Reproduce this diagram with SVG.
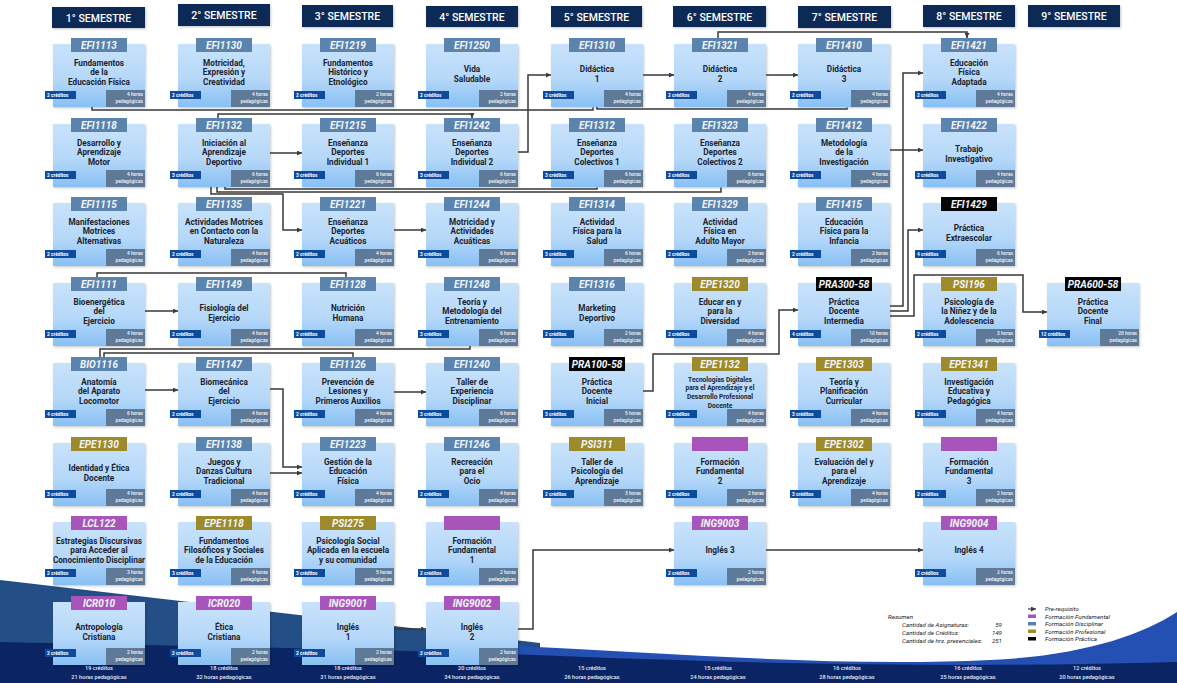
<svg xmlns="http://www.w3.org/2000/svg" width="1177" height="683" viewBox="0 0 1177 683">
<defs>
<linearGradient id="g" x1="0" y1="0" x2="0" y2="1">
<stop offset="0" stop-color="#c8e2fb"/><stop offset="0.55" stop-color="#b6d8f9"/><stop offset="1" stop-color="#88c0f4"/>
</linearGradient>
<filter id="sh" x="-10%" y="-10%" width="125%" height="130%"><feDropShadow dx="1" dy="1.2" stdDeviation="1" flood-color="#000" flood-opacity="0.22"/></filter>
<marker id="ar" viewBox="0 0 6 6" refX="6" refY="3" markerWidth="5" markerHeight="5" markerUnits="userSpaceOnUse" orient="auto"><path d="M0,0 L6,3 L0,6 Z" fill="#3c3c3c"/></marker>
<style>
.b{fill:url(#g);filter:url(#sh)}
.d{fill:#5a83ad}.f{fill:#a855bb}.p{fill:#9d8a2b}.k{fill:#050505}
.c{font:italic 700 10px Roboto,sans-serif;fill:#f2f6fb;text-anchor:middle}
.t{font:700 8.2px Roboto,sans-serif;fill:#1b2430;text-anchor:middle}
.ts{font:700 6.6px Roboto,sans-serif;fill:#1b2430;text-anchor:middle}
.cr{fill:#0d4b9e}
.ct{font:700 4.8px Roboto,sans-serif;fill:#fff}
.h{fill:#5e7a98}
.ht{font:500 4.8px Roboto,sans-serif;fill:#f4f6f9;text-anchor:end}
.hd{fill:#0f2c56;filter:url(#sh)}
.hdt{font:500 10.5px Roboto,sans-serif;fill:#fff;text-anchor:middle}
.ln{fill:none;stroke:#383838;stroke-width:1.5}
.ft{font:500 5.6px Roboto,sans-serif;fill:#e4ecff;text-anchor:middle}
.lg{font:italic 400 6.2px Roboto,sans-serif;fill:#222}
</style>
</defs>
<rect width="1177" height="683" fill="#fff"/>
<g id="background">
<path d="M0,580 L540,643 L540,683 L0,683 Z" fill="#234f86"/>
<path d="M470,644 C640,650 820,668 990,660 C1080,656 1140,636 1177,612 L1177,683 L470,683 Z" fill="#2350b2"/>
<path d="M0,642 C180,646 380,649 560,656 C760,664 980,668 1177,662 L1177,683 L0,683 Z" fill="#0b2463"/>
</g>
<g id="headers">
<rect class="hd" x="52" y="7" width="93" height="21"/><text class="hdt" x="98.5" y="21.5">1° SEMESTRE</text>
<rect class="hd" x="178" y="4" width="92" height="22"/><text class="hdt" x="224" y="19">2° SEMESTRE</text>
<rect class="hd" x="302" y="5" width="91" height="22"/><text class="hdt" x="347.5" y="20">3° SEMESTRE</text>
<rect class="hd" x="426" y="6" width="92" height="21"/><text class="hdt" x="472" y="20.5">4° SEMESTRE</text>
<rect class="hd" x="551" y="6" width="91" height="21"/><text class="hdt" x="596.5" y="20.5">5° SEMESTRE</text>
<rect class="hd" x="673" y="6" width="93" height="21"/><text class="hdt" x="719.5" y="20.5">6° SEMESTRE</text>
<rect class="hd" x="798" y="6" width="93" height="22"/><text class="hdt" x="844.5" y="21">7° SEMESTRE</text>
<rect class="hd" x="923" y="5" width="92" height="22"/><text class="hdt" x="969" y="20">8° SEMESTRE</text>
<rect class="hd" x="1028" y="5" width="92" height="22"/><text class="hdt" x="1074" y="20">9° SEMESTRE</text>
</g>

<!-- Column 1 -->
<g id="EFI1113"><rect class="b" x="53" y="44" width="92" height="63"/><rect class="d" x="71" y="38" width="56" height="14"/><text class="c" x="99" y="48.6">EFI1113</text>
<text class="t" x="99" y="65.5">Fundamentos<tspan x="99" dy="9.5">de la</tspan><tspan x="99" dy="9.5">Educación Física</tspan></text>
<rect class="cr" x="45" y="91" width="31" height="8"/><text class="ct" x="47" y="97.2">2 créditos</text><rect class="h" x="106" y="90" width="39" height="17"/><text class="ht" x="143" y="96">4 horas<tspan x="143" dy="7">pedagógicas</tspan></text></g>
<g id="EFI1118"><rect class="b" x="53" y="124" width="92" height="63"/><rect class="d" x="71" y="118" width="56" height="14"/><text class="c" x="99" y="128.6">EFI1118</text>
<text class="t" x="99" y="145.5">Desarrollo y<tspan x="99" dy="9.5">Aprendizaje</tspan><tspan x="99" dy="9.5">Motor</tspan></text>
<rect class="cr" x="45" y="171" width="31" height="8"/><text class="ct" x="47" y="177.2">2 créditos</text><rect class="h" x="106" y="170" width="39" height="17"/><text class="ht" x="143" y="176">4 horas<tspan x="143" dy="7">pedagógicas</tspan></text></g>
<g id="EFI1115"><rect class="b" x="53" y="203" width="92" height="63"/><rect class="d" x="71" y="197" width="56" height="14"/><text class="c" x="99" y="207.6">EFI1115</text>
<text class="t" x="99" y="224.5">Manifestaciones<tspan x="99" dy="9.5">Motrices</tspan><tspan x="99" dy="9.5">Alternativas</tspan></text>
<rect class="cr" x="45" y="250" width="31" height="8"/><text class="ct" x="47" y="256.2">2 créditos</text><rect class="h" x="106" y="249" width="39" height="17"/><text class="ht" x="143" y="255">4 horas<tspan x="143" dy="7">pedagógicas</tspan></text></g>
<g id="EFI1111"><rect class="b" x="53" y="283" width="92" height="63"/><rect class="d" x="71" y="277" width="56" height="14"/><text class="c" x="99" y="287.6">EFI1111</text>
<text class="t" x="99" y="304.5">Bioenergética<tspan x="99" dy="9.5">del</tspan><tspan x="99" dy="9.5">Ejercicio</tspan></text>
<rect class="cr" x="45" y="330" width="31" height="8"/><text class="ct" x="47" y="336.2">2 créditos</text><rect class="h" x="106" y="329" width="39" height="17"/><text class="ht" x="143" y="335">4 horas<tspan x="143" dy="7">pedagógicas</tspan></text></g>
<g id="BIO1116"><rect class="b" x="53" y="363" width="92" height="63"/><rect class="d" x="71" y="357" width="56" height="14"/><text class="c" x="99" y="367.6">BIO1116</text>
<text class="t" x="99" y="384.5">Anatomía<tspan x="99" dy="9.5">del Aparato</tspan><tspan x="99" dy="9.5">Locomotor</tspan></text>
<rect class="cr" x="45" y="410" width="31" height="8"/><text class="ct" x="47" y="416.2">4 créditos</text><rect class="h" x="106" y="409" width="39" height="17"/><text class="ht" x="143" y="415">6 horas<tspan x="143" dy="7">pedagógicas</tspan></text></g>
<g id="EPE1130"><rect class="b" x="53" y="443" width="92" height="63"/><rect class="p" x="71" y="437" width="56" height="14"/><text class="c" x="99" y="447.6">EPE1130</text>
<text class="t" x="99" y="471">Identidad y Ética<tspan x="99" dy="9.5">Docente</tspan></text>
<rect class="cr" x="45" y="490" width="31" height="8"/><text class="ct" x="47" y="496.2">3 créditos</text><rect class="h" x="106" y="489" width="39" height="17"/><text class="ht" x="143" y="495">4 horas<tspan x="143" dy="7">pedagógicas</tspan></text></g>
<g id="LCL122"><rect class="b" x="53" y="522" width="92" height="63"/><rect class="f" x="71" y="516" width="56" height="14"/><text class="c" x="99" y="526.6">LCL122</text>
<text class="t" x="99" y="543.5">Estrategias Discursivas<tspan x="99" dy="9.5">para Acceder al</tspan><tspan x="99" dy="9.5">Conocimiento Disciplinar</tspan></text>
<rect class="cr" x="45" y="569" width="31" height="8"/><text class="ct" x="47" y="575.2">2 créditos</text><rect class="h" x="106" y="568" width="39" height="17"/><text class="ht" x="143" y="574">3 horas<tspan x="143" dy="7">pedagógicas</tspan></text></g>
<g id="ICR010"><rect class="b" x="53" y="602" width="92" height="63"/><rect class="f" x="71" y="596" width="56" height="14"/><text class="c" x="99" y="606.6">ICR010</text>
<text class="t" x="99" y="630">Antropología<tspan x="99" dy="9.5">Cristiana</tspan></text>
<rect class="cr" x="45" y="649" width="31" height="8"/><text class="ct" x="47" y="655.2">2 créditos</text><rect class="h" x="106" y="648" width="39" height="17"/><text class="ht" x="143" y="654">2 horas<tspan x="143" dy="7">pedagógicas</tspan></text></g>

<!-- Column 2 -->
<g id="EFI1130"><rect class="b" x="178" y="44" width="92" height="63"/><rect class="d" x="196" y="38" width="56" height="14"/><text class="c" x="224" y="48.6">EFI1130</text>
<text class="t" x="224" y="65.5">Motricidad,<tspan x="224" dy="9.5">Expresión y</tspan><tspan x="224" dy="9.5">Creatividad</tspan></text>
<rect class="cr" x="170" y="91" width="31" height="8"/><text class="ct" x="172" y="97.2">2 créditos</text><rect class="h" x="231" y="90" width="39" height="17"/><text class="ht" x="268" y="96">4 horas<tspan x="268" dy="7">pedagógicas</tspan></text></g>
<g id="EFI1132"><rect class="b" x="178" y="124" width="92" height="63"/><rect class="d" x="196" y="118" width="56" height="14"/><text class="c" x="224" y="128.6">EFI1132</text>
<text class="t" x="224" y="145.5">Iniciación al<tspan x="224" dy="9.5">Aprendizaje</tspan><tspan x="224" dy="9.5">Deportivo</tspan></text>
<rect class="cr" x="170" y="171" width="31" height="8"/><text class="ct" x="172" y="177.2">3 créditos</text><rect class="h" x="231" y="170" width="39" height="17"/><text class="ht" x="268" y="176">6 horas<tspan x="268" dy="7">pedagógicas</tspan></text></g>
<g id="EFI1135"><rect class="b" x="178" y="203" width="92" height="63"/><rect class="d" x="196" y="197" width="56" height="14"/><text class="c" x="224" y="207.6">EFI1135</text>
<text class="t" x="224" y="224.5">Actividades Motrices<tspan x="224" dy="9.5">en Contacto con la</tspan><tspan x="224" dy="9.5">Naturaleza</tspan></text>
<rect class="cr" x="170" y="250" width="31" height="8"/><text class="ct" x="172" y="256.2">2 créditos</text><rect class="h" x="231" y="249" width="39" height="17"/><text class="ht" x="268" y="255">4 horas<tspan x="268" dy="7">pedagógicas</tspan></text></g>
<g id="EFI1149"><rect class="b" x="178" y="283" width="92" height="63"/><rect class="d" x="196" y="277" width="56" height="14"/><text class="c" x="224" y="287.6">EFI1149</text>
<text class="t" x="224" y="311">Fisiología del<tspan x="224" dy="9.5">Ejercicio</tspan></text>
<rect class="cr" x="170" y="330" width="31" height="8"/><text class="ct" x="172" y="336.2">2 créditos</text><rect class="h" x="231" y="329" width="39" height="17"/><text class="ht" x="268" y="335">4 horas<tspan x="268" dy="7">pedagógicas</tspan></text></g>
<g id="EFI1147"><rect class="b" x="178" y="363" width="92" height="63"/><rect class="d" x="196" y="357" width="56" height="14"/><text class="c" x="224" y="367.6">EFI1147</text>
<text class="t" x="224" y="384.5">Biomecánica<tspan x="224" dy="9.5">del</tspan><tspan x="224" dy="9.5">Ejercicio</tspan></text>
<rect class="cr" x="170" y="410" width="31" height="8"/><text class="ct" x="172" y="416.2">2 créditos</text><rect class="h" x="231" y="409" width="39" height="17"/><text class="ht" x="268" y="415">4 horas<tspan x="268" dy="7">pedagógicas</tspan></text></g>
<g id="EFI1138"><rect class="b" x="178" y="443" width="92" height="63"/><rect class="d" x="196" y="437" width="56" height="14"/><text class="c" x="224" y="447.6">EFI1138</text>
<text class="t" x="224" y="464.5">Juegos y<tspan x="224" dy="9.5">Danzas Cultura</tspan><tspan x="224" dy="9.5">Tradicional</tspan></text>
<rect class="cr" x="170" y="490" width="31" height="8"/><text class="ct" x="172" y="496.2">2 créditos</text><rect class="h" x="231" y="489" width="39" height="17"/><text class="ht" x="268" y="495">4 horas<tspan x="268" dy="7">pedagógicas</tspan></text></g>
<g id="EPE1118"><rect class="b" x="178" y="522" width="92" height="63"/><rect class="p" x="196" y="516" width="56" height="14"/><text class="c" x="224" y="526.6">EPE1118</text>
<text class="t" x="224" y="543.5">Fundamentos<tspan x="224" dy="9.5">Filosóficos y Sociales</tspan><tspan x="224" dy="9.5">de la Educación</tspan></text>
<rect class="cr" x="170" y="569" width="31" height="8"/><text class="ct" x="172" y="575.2">3 créditos</text><rect class="h" x="231" y="568" width="39" height="17"/><text class="ht" x="268" y="574">4 horas<tspan x="268" dy="7">pedagógicas</tspan></text></g>
<g id="ICR020"><rect class="b" x="178" y="602" width="92" height="63"/><rect class="f" x="196" y="596" width="56" height="14"/><text class="c" x="224" y="606.6">ICR020</text>
<text class="t" x="224" y="630">Ética<tspan x="224" dy="9.5">Cristiana</tspan></text>
<rect class="cr" x="170" y="649" width="31" height="8"/><text class="ct" x="172" y="655.2">2 créditos</text><rect class="h" x="231" y="648" width="39" height="17"/><text class="ht" x="268" y="654">2 horas<tspan x="268" dy="7">pedagógicas</tspan></text></g>

<!-- Column 3 -->
<g id="EFI1219"><rect class="b" x="302" y="44" width="92" height="63"/><rect class="d" x="320" y="38" width="56" height="14"/><text class="c" x="348" y="48.6">EFI1219</text>
<text class="t" x="348" y="65.5">Fundamentos<tspan x="348" dy="9.5">Histórico y</tspan><tspan x="348" dy="9.5">Etnológico</tspan></text>
<rect class="cr" x="294" y="91" width="31" height="8"/><text class="ct" x="296" y="97.2">2 créditos</text><rect class="h" x="355" y="90" width="39" height="17"/><text class="ht" x="392" y="96">2 horas<tspan x="392" dy="7">pedagógicas</tspan></text></g>
<g id="EFI1215"><rect class="b" x="302" y="124" width="92" height="63"/><rect class="d" x="320" y="118" width="56" height="14"/><text class="c" x="348" y="128.6">EFI1215</text>
<text class="t" x="348" y="145.5">Enseñanza<tspan x="348" dy="9.5">Deportes</tspan><tspan x="348" dy="9.5">Individual 1</tspan></text>
<rect class="cr" x="294" y="171" width="31" height="8"/><text class="ct" x="296" y="177.2">3 créditos</text><rect class="h" x="355" y="170" width="39" height="17"/><text class="ht" x="392" y="176">6 horas<tspan x="392" dy="7">pedagógicas</tspan></text></g>
<g id="EFI1221"><rect class="b" x="302" y="203" width="92" height="63"/><rect class="d" x="320" y="197" width="56" height="14"/><text class="c" x="348" y="207.6">EFI1221</text>
<text class="t" x="348" y="224.5">Enseñanza<tspan x="348" dy="9.5">Deportes</tspan><tspan x="348" dy="9.5">Acuáticos</tspan></text>
<rect class="cr" x="294" y="250" width="31" height="8"/><text class="ct" x="296" y="256.2">2 créditos</text><rect class="h" x="355" y="249" width="39" height="17"/><text class="ht" x="392" y="255">4 horas<tspan x="392" dy="7">pedagógicas</tspan></text></g>
<g id="EFI1128"><rect class="b" x="302" y="283" width="92" height="63"/><rect class="d" x="320" y="277" width="56" height="14"/><text class="c" x="348" y="287.6">EFI1128</text>
<text class="t" x="348" y="311">Nutrición<tspan x="348" dy="9.5">Humana</tspan></text>
<rect class="cr" x="294" y="330" width="31" height="8"/><text class="ct" x="296" y="336.2">2 créditos</text><rect class="h" x="355" y="329" width="39" height="17"/><text class="ht" x="392" y="335">4 horas<tspan x="392" dy="7">pedagógicas</tspan></text></g>
<g id="EFI1126"><rect class="b" x="302" y="363" width="92" height="63"/><rect class="d" x="320" y="357" width="56" height="14"/><text class="c" x="348" y="367.6">EFI1126</text>
<text class="t" x="348" y="384.5">Prevención de<tspan x="348" dy="9.5">Lesiones y</tspan><tspan x="348" dy="9.5">Primeros Auxilios</tspan></text>
<rect class="cr" x="294" y="410" width="31" height="8"/><text class="ct" x="296" y="416.2">2 créditos</text><rect class="h" x="355" y="409" width="39" height="17"/><text class="ht" x="392" y="415">4 horas<tspan x="392" dy="7">pedagógicas</tspan></text></g>
<g id="EFI1223"><rect class="b" x="302" y="443" width="92" height="63"/><rect class="d" x="320" y="437" width="56" height="14"/><text class="c" x="348" y="447.6">EFI1223</text>
<text class="t" x="348" y="464.5">Gestión de la<tspan x="348" dy="9.5">Educación</tspan><tspan x="348" dy="9.5">Física</tspan></text>
<rect class="cr" x="294" y="490" width="31" height="8"/><text class="ct" x="296" y="496.2">2 créditos</text><rect class="h" x="355" y="489" width="39" height="17"/><text class="ht" x="392" y="495">4 horas<tspan x="392" dy="7">pedagógicas</tspan></text></g>
<g id="PSI275"><rect class="b" x="302" y="522" width="92" height="63"/><rect class="p" x="320" y="516" width="56" height="14"/><text class="c" x="348" y="526.6">PSI275</text>
<text class="t" x="348" y="543.5">Psicología Social<tspan x="348" dy="9.5">Aplicada en la escuela</tspan><tspan x="348" dy="9.5">y su comunidad</tspan></text>
<rect class="cr" x="294" y="569" width="31" height="8"/><text class="ct" x="296" y="575.2">3 créditos</text><rect class="h" x="355" y="568" width="39" height="17"/><text class="ht" x="392" y="574">5 horas<tspan x="392" dy="7">pedagógicas</tspan></text></g>
<g id="ING9001"><rect class="b" x="302" y="602" width="92" height="63"/><rect class="f" x="320" y="596" width="56" height="14"/><text class="c" x="348" y="606.6">ING9001</text>
<text class="t" x="348" y="630">Inglés<tspan x="348" dy="9.5">1</tspan></text>
<rect class="cr" x="294" y="649" width="31" height="8"/><text class="ct" x="296" y="655.2">2 créditos</text><rect class="h" x="355" y="648" width="39" height="17"/><text class="ht" x="392" y="654">2 horas<tspan x="392" dy="7">pedagógicas</tspan></text></g>

<!-- Column 4 -->
<g id="EFI1250"><rect class="b" x="426" y="44" width="92" height="63"/><rect class="d" x="444" y="38" width="56" height="14"/><text class="c" x="472" y="48.6">EFI1250</text>
<text class="t" x="472" y="72">Vida<tspan x="472" dy="9.5">Saludable</tspan></text>
<rect class="cr" x="418" y="91" width="31" height="8"/><text class="ct" x="420" y="97.2">2 créditos</text><rect class="h" x="479" y="90" width="39" height="17"/><text class="ht" x="516" y="96">2 horas<tspan x="516" dy="7">pedagógicas</tspan></text></g>
<g id="EFI1242"><rect class="b" x="426" y="124" width="92" height="63"/><rect class="d" x="444" y="118" width="56" height="14"/><text class="c" x="472" y="128.6">EFI1242</text>
<text class="t" x="472" y="145.5">Enseñanza<tspan x="472" dy="9.5">Deportes</tspan><tspan x="472" dy="9.5">Individual 2</tspan></text>
<rect class="cr" x="418" y="171" width="31" height="8"/><text class="ct" x="420" y="177.2">3 créditos</text><rect class="h" x="479" y="170" width="39" height="17"/><text class="ht" x="516" y="176">6 horas<tspan x="516" dy="7">pedagógicas</tspan></text></g>
<g id="EFI1244"><rect class="b" x="426" y="203" width="92" height="63"/><rect class="d" x="444" y="197" width="56" height="14"/><text class="c" x="472" y="207.6">EFI1244</text>
<text class="t" x="472" y="224.5">Motricidad y<tspan x="472" dy="9.5">Actividades</tspan><tspan x="472" dy="9.5">Acuáticas</tspan></text>
<rect class="cr" x="418" y="250" width="31" height="8"/><text class="ct" x="420" y="256.2">3 créditos</text><rect class="h" x="479" y="249" width="39" height="17"/><text class="ht" x="516" y="255">6 horas<tspan x="516" dy="7">pedagógicas</tspan></text></g>
<g id="EFI1248"><rect class="b" x="426" y="283" width="92" height="63"/><rect class="d" x="444" y="277" width="56" height="14"/><text class="c" x="472" y="287.6">EFI1248</text>
<text class="t" x="472" y="304.5">Teoría y<tspan x="472" dy="9.5">Metodología del</tspan><tspan x="472" dy="9.5">Entrenamiento</tspan></text>
<rect class="cr" x="418" y="330" width="31" height="8"/><text class="ct" x="420" y="336.2">3 créditos</text><rect class="h" x="479" y="329" width="39" height="17"/><text class="ht" x="516" y="335">6 horas<tspan x="516" dy="7">pedagógicas</tspan></text></g>
<g id="EFI1240"><rect class="b" x="426" y="363" width="92" height="63"/><rect class="d" x="444" y="357" width="56" height="14"/><text class="c" x="472" y="367.6">EFI1240</text>
<text class="t" x="472" y="384.5">Taller de<tspan x="472" dy="9.5">Experiencia</tspan><tspan x="472" dy="9.5">Disciplinar</tspan></text>
<rect class="cr" x="418" y="410" width="31" height="8"/><text class="ct" x="420" y="416.2">3 créditos</text><rect class="h" x="479" y="409" width="39" height="17"/><text class="ht" x="516" y="415">6 horas<tspan x="516" dy="7">pedagógicas</tspan></text></g>
<g id="EFI1246"><rect class="b" x="426" y="443" width="92" height="63"/><rect class="d" x="444" y="437" width="56" height="14"/><text class="c" x="472" y="447.6">EFI1246</text>
<text class="t" x="472" y="464.5">Recreación<tspan x="472" dy="9.5">para el</tspan><tspan x="472" dy="9.5">Ocio</tspan></text>
<rect class="cr" x="418" y="490" width="31" height="8"/><text class="ct" x="420" y="496.2">2 créditos</text><rect class="h" x="479" y="489" width="39" height="17"/><text class="ht" x="516" y="495">4 horas<tspan x="516" dy="7">pedagógicas</tspan></text></g>
<g id="FF1"><rect class="b" x="426" y="522" width="92" height="63"/><rect class="f" x="444" y="516" width="56" height="14"/>
<text class="t" x="472" y="543.5">Formación<tspan x="472" dy="9.5">Fundamental</tspan><tspan x="472" dy="9.5">1</tspan></text>
<rect class="cr" x="418" y="569" width="31" height="8"/><text class="ct" x="420" y="575.2">2 créditos</text><rect class="h" x="479" y="568" width="39" height="17"/><text class="ht" x="516" y="574">2 horas<tspan x="516" dy="7">pedagógicas</tspan></text></g>
<g id="ING9002"><rect class="b" x="426" y="602" width="92" height="63"/><rect class="f" x="444" y="596" width="56" height="14"/><text class="c" x="472" y="606.6">ING9002</text>
<text class="t" x="472" y="630">Inglés<tspan x="472" dy="9.5">2</tspan></text>
<rect class="cr" x="418" y="649" width="31" height="8"/><text class="ct" x="420" y="655.2">2 créditos</text><rect class="h" x="479" y="648" width="39" height="17"/><text class="ht" x="516" y="654">2 horas<tspan x="516" dy="7">pedagógicas</tspan></text></g>

<!-- Column 5 -->
<g id="EFI1310"><rect class="b" x="551" y="44" width="92" height="63"/><rect class="d" x="569" y="38" width="56" height="14"/><text class="c" x="597" y="48.6">EFI1310</text>
<text class="t" x="597" y="72">Didáctica<tspan x="597" dy="9.5">1</tspan></text>
<rect class="cr" x="543" y="91" width="31" height="8"/><text class="ct" x="545" y="97.2">2 créditos</text><rect class="h" x="604" y="90" width="39" height="17"/><text class="ht" x="641" y="96">4 horas<tspan x="641" dy="7">pedagógicas</tspan></text></g>
<g id="EFI1312"><rect class="b" x="551" y="124" width="92" height="63"/><rect class="d" x="569" y="118" width="56" height="14"/><text class="c" x="597" y="128.6">EFI1312</text>
<text class="t" x="597" y="145.5">Enseñanza<tspan x="597" dy="9.5">Deportes</tspan><tspan x="597" dy="9.5">Colectivos 1</tspan></text>
<rect class="cr" x="543" y="171" width="31" height="8"/><text class="ct" x="545" y="177.2">3 créditos</text><rect class="h" x="604" y="170" width="39" height="17"/><text class="ht" x="641" y="176">6 horas<tspan x="641" dy="7">pedagógicas</tspan></text></g>
<g id="EFI1314"><rect class="b" x="551" y="203" width="92" height="63"/><rect class="d" x="569" y="197" width="56" height="14"/><text class="c" x="597" y="207.6">EFI1314</text>
<text class="t" x="597" y="224.5">Actividad<tspan x="597" dy="9.5">Física para la</tspan><tspan x="597" dy="9.5">Salud</tspan></text>
<rect class="cr" x="543" y="250" width="31" height="8"/><text class="ct" x="545" y="256.2">3 créditos</text><rect class="h" x="604" y="249" width="39" height="17"/><text class="ht" x="641" y="255">6 horas<tspan x="641" dy="7">pedagógicas</tspan></text></g>
<g id="EFI1316"><rect class="b" x="551" y="283" width="92" height="63"/><rect class="d" x="569" y="277" width="56" height="14"/><text class="c" x="597" y="287.6">EFI1316</text>
<text class="t" x="597" y="311">Marketing<tspan x="597" dy="9.5">Deportivo</tspan></text>
<rect class="cr" x="543" y="330" width="31" height="8"/><text class="ct" x="545" y="336.2">2 créditos</text><rect class="h" x="604" y="329" width="39" height="17"/><text class="ht" x="641" y="335">2 horas<tspan x="641" dy="7">pedagógicas</tspan></text></g>
<g id="PRA100-58"><rect class="b" x="551" y="363" width="92" height="63"/><rect class="k" x="569" y="357" width="56" height="14"/><text class="c" x="597" y="367.6">PRA100-58</text>
<text class="t" x="597" y="384.5">Práctica<tspan x="597" dy="9.5">Docente</tspan><tspan x="597" dy="9.5">Inicial</tspan></text>
<rect class="cr" x="543" y="410" width="31" height="8"/><text class="ct" x="545" y="416.2">3 créditos</text><rect class="h" x="604" y="409" width="39" height="17"/><text class="ht" x="641" y="415">5 horas<tspan x="641" dy="7">pedagógicas</tspan></text></g>
<g id="PSI311"><rect class="b" x="551" y="443" width="92" height="63"/><rect class="p" x="569" y="437" width="56" height="14"/><text class="c" x="597" y="447.6">PSI311</text>
<text class="t" x="597" y="464.5">Taller de<tspan x="597" dy="9.5">Psicología del</tspan><tspan x="597" dy="9.5">Aprendizaje</tspan></text>
<rect class="cr" x="543" y="490" width="31" height="8"/><text class="ct" x="545" y="496.2">2 créditos</text><rect class="h" x="604" y="489" width="39" height="17"/><text class="ht" x="641" y="495">3 horas<tspan x="641" dy="7">pedagógicas</tspan></text></g>

<!-- Column 6 -->
<g id="EFI1321"><rect class="b" x="674" y="44" width="92" height="63"/><rect class="d" x="692" y="38" width="56" height="14"/><text class="c" x="720" y="48.6">EFI1321</text>
<text class="t" x="720" y="72">Didáctica<tspan x="720" dy="9.5">2</tspan></text>
<rect class="cr" x="666" y="91" width="31" height="8"/><text class="ct" x="668" y="97.2">2 créditos</text><rect class="h" x="727" y="90" width="39" height="17"/><text class="ht" x="764" y="96">4 horas<tspan x="764" dy="7">pedagógicas</tspan></text></g>
<g id="EFI1323"><rect class="b" x="674" y="124" width="92" height="63"/><rect class="d" x="692" y="118" width="56" height="14"/><text class="c" x="720" y="128.6">EFI1323</text>
<text class="t" x="720" y="145.5">Enseñanza<tspan x="720" dy="9.5">Deportes</tspan><tspan x="720" dy="9.5">Colectivos 2</tspan></text>
<rect class="cr" x="666" y="171" width="31" height="8"/><text class="ct" x="668" y="177.2">2 créditos</text><rect class="h" x="727" y="170" width="39" height="17"/><text class="ht" x="764" y="176">6 horas<tspan x="764" dy="7">pedagógicas</tspan></text></g>
<g id="EFI1329"><rect class="b" x="674" y="203" width="92" height="63"/><rect class="d" x="692" y="197" width="56" height="14"/><text class="c" x="720" y="207.6">EFI1329</text>
<text class="t" x="720" y="224.5">Actividad<tspan x="720" dy="9.5">Física en</tspan><tspan x="720" dy="9.5">Adulto Mayor</tspan></text>
<rect class="cr" x="666" y="250" width="31" height="8"/><text class="ct" x="668" y="256.2">2 créditos</text><rect class="h" x="727" y="249" width="39" height="17"/><text class="ht" x="764" y="255">2 horas<tspan x="764" dy="7">pedagógicas</tspan></text></g>
<g id="EPE1320"><rect class="b" x="674" y="283" width="92" height="63"/><rect class="p" x="692" y="277" width="56" height="14"/><text class="c" x="720" y="287.6">EPE1320</text>
<text class="t" x="720" y="304.5">Educar en y<tspan x="720" dy="9.5">para la</tspan><tspan x="720" dy="9.5">Diversidad</tspan></text>
<rect class="cr" x="666" y="330" width="31" height="8"/><text class="ct" x="668" y="336.2">2 créditos</text><rect class="h" x="727" y="329" width="39" height="17"/><text class="ht" x="764" y="335">4 horas<tspan x="764" dy="7">pedagógicas</tspan></text></g>
<g id="EPE1132"><rect class="b" x="674" y="363" width="92" height="63"/><rect class="p" x="692" y="357" width="56" height="14"/><text class="c" x="720" y="367.6">EPE1132</text>
<text class="ts" x="720" y="381.5">Tecnologías Digitales<tspan x="720" dy="8.7">para el Aprendizaje y el</tspan><tspan x="720" dy="8.7">Desarrollo Profesional</tspan><tspan x="720" dy="8.7">Docente</tspan></text>
<rect class="cr" x="666" y="410" width="31" height="8"/><text class="ct" x="668" y="416.2">2 créditos</text><rect class="h" x="727" y="409" width="39" height="17"/><text class="ht" x="764" y="415">4 horas<tspan x="764" dy="7">pedagógicas</tspan></text></g>
<g id="FF2"><rect class="b" x="674" y="443" width="92" height="63"/><rect class="f" x="692" y="437" width="56" height="14"/>
<text class="t" x="720" y="464.5">Formación<tspan x="720" dy="9.5">Fundamental</tspan><tspan x="720" dy="9.5">2</tspan></text>
<rect class="cr" x="666" y="490" width="31" height="8"/><text class="ct" x="668" y="496.2">2 créditos</text><rect class="h" x="727" y="489" width="39" height="17"/><text class="ht" x="764" y="495">2 horas<tspan x="764" dy="7">pedagógicas</tspan></text></g>
<g id="ING9003"><rect class="b" x="674" y="522" width="92" height="63"/><rect class="f" x="692" y="516" width="56" height="14"/><text class="c" x="720" y="526.6">ING9003</text>
<text class="t" x="720" y="553">Inglés 3</text>
<rect class="cr" x="666" y="569" width="31" height="8"/><text class="ct" x="668" y="575.2">2 créditos</text><rect class="h" x="727" y="568" width="39" height="17"/><text class="ht" x="764" y="574">2 horas<tspan x="764" dy="7">pedagógicas</tspan></text></g>

<!-- Column 7 -->
<g id="EFI1410"><rect class="b" x="798" y="44" width="92" height="63"/><rect class="d" x="816" y="38" width="56" height="14"/><text class="c" x="844" y="48.6">EFI1410</text>
<text class="t" x="844" y="72">Didáctica<tspan x="844" dy="9.5">3</tspan></text>
<rect class="cr" x="790" y="91" width="31" height="8"/><text class="ct" x="792" y="97.2">2 créditos</text><rect class="h" x="851" y="90" width="39" height="17"/><text class="ht" x="888" y="96">4 horas<tspan x="888" dy="7">pedagógicas</tspan></text></g>
<g id="EFI1412"><rect class="b" x="798" y="124" width="92" height="63"/><rect class="d" x="816" y="118" width="56" height="14"/><text class="c" x="844" y="128.6">EFI1412</text>
<text class="t" x="844" y="145.5">Metodología<tspan x="844" dy="9.5">de la</tspan><tspan x="844" dy="9.5">Investigación</tspan></text>
<rect class="cr" x="790" y="171" width="31" height="8"/><text class="ct" x="792" y="177.2">2 créditos</text><rect class="h" x="851" y="170" width="39" height="17"/><text class="ht" x="888" y="176">4 horas<tspan x="888" dy="7">pedagógicas</tspan></text></g>
<g id="EFI1415"><rect class="b" x="798" y="203" width="92" height="63"/><rect class="d" x="816" y="197" width="56" height="14"/><text class="c" x="844" y="207.6">EFI1415</text>
<text class="t" x="844" y="224.5">Educación<tspan x="844" dy="9.5">Física para la</tspan><tspan x="844" dy="9.5">Infancia</tspan></text>
<rect class="cr" x="790" y="250" width="31" height="8"/><text class="ct" x="792" y="256.2">2 créditos</text><rect class="h" x="851" y="249" width="39" height="17"/><text class="ht" x="888" y="255">2 horas<tspan x="888" dy="7">pedagógicas</tspan></text></g>
<g id="PRA300-58"><rect class="b" x="798" y="283" width="92" height="63"/><rect class="k" x="816" y="277" width="56" height="14"/><text class="c" x="844" y="287.6">PRA300-58</text>
<text class="t" x="844" y="304.5">Práctica<tspan x="844" dy="9.5">Docente</tspan><tspan x="844" dy="9.5">Intermedia</tspan></text>
<rect class="cr" x="790" y="330" width="31" height="8"/><text class="ct" x="792" y="336.2">4 créditos</text><rect class="h" x="851" y="329" width="39" height="17"/><text class="ht" x="888" y="335">10 horas<tspan x="888" dy="7">pedagógicas</tspan></text></g>
<g id="EPE1303"><rect class="b" x="798" y="363" width="92" height="63"/><rect class="p" x="816" y="357" width="56" height="14"/><text class="c" x="844" y="367.6">EPE1303</text>
<text class="t" x="844" y="384.5">Teoría y<tspan x="844" dy="9.5">Planificación</tspan><tspan x="844" dy="9.5">Curricular</tspan></text>
<rect class="cr" x="790" y="410" width="31" height="8"/><text class="ct" x="792" y="416.2">3 créditos</text><rect class="h" x="851" y="409" width="39" height="17"/><text class="ht" x="888" y="415">4 horas<tspan x="888" dy="7">pedagógicas</tspan></text></g>
<g id="EPE1302"><rect class="b" x="798" y="443" width="92" height="63"/><rect class="p" x="816" y="437" width="56" height="14"/><text class="c" x="844" y="447.6">EPE1302</text>
<text class="t" x="844" y="464.5">Evaluación del y<tspan x="844" dy="9.5">para el</tspan><tspan x="844" dy="9.5">Aprendizaje</tspan></text>
<rect class="cr" x="790" y="490" width="31" height="8"/><text class="ct" x="792" y="496.2">3 créditos</text><rect class="h" x="851" y="489" width="39" height="17"/><text class="ht" x="888" y="495">4 horas<tspan x="888" dy="7">pedagógicas</tspan></text></g>

<!-- Column 8 -->
<g id="EFI1421"><rect class="b" x="923" y="44" width="92" height="63"/><rect class="d" x="941" y="38" width="56" height="14"/><text class="c" x="969" y="48.6">EFI1421</text>
<text class="t" x="969" y="65.5">Educación<tspan x="969" dy="9.5">Física</tspan><tspan x="969" dy="9.5">Adaptada</tspan></text>
<rect class="cr" x="915" y="91" width="31" height="8"/><text class="ct" x="917" y="97.2">2 créditos</text><rect class="h" x="976" y="90" width="39" height="17"/><text class="ht" x="1013" y="96">4 horas<tspan x="1013" dy="7">pedagógicas</tspan></text></g>
<g id="EFI1422"><rect class="b" x="923" y="124" width="92" height="63"/><rect class="d" x="941" y="118" width="56" height="14"/><text class="c" x="969" y="128.6">EFI1422</text>
<text class="t" x="969" y="152">Trabajo<tspan x="969" dy="9.5">Investigativo</tspan></text>
<rect class="cr" x="915" y="171" width="31" height="8"/><text class="ct" x="917" y="177.2">2 créditos</text><rect class="h" x="976" y="170" width="39" height="17"/><text class="ht" x="1013" y="176">4 horas<tspan x="1013" dy="7">pedagógicas</tspan></text></g>
<g id="EFI1429"><rect class="b" x="923" y="203" width="92" height="63"/><rect class="k" x="941" y="197" width="56" height="14"/><text class="c" x="969" y="207.6">EFI1429</text>
<text class="t" x="969" y="231">Práctica<tspan x="969" dy="9.5">Extraescolar</tspan></text>
<rect class="cr" x="915" y="250" width="31" height="8"/><text class="ct" x="917" y="256.2">4 créditos</text><rect class="h" x="976" y="249" width="39" height="17"/><text class="ht" x="1013" y="255">6 horas<tspan x="1013" dy="7">pedagógicas</tspan></text></g>
<g id="PSI196"><rect class="b" x="923" y="283" width="92" height="63"/><rect class="p" x="941" y="277" width="56" height="14"/><text class="c" x="969" y="287.6">PSI196</text>
<text class="t" x="969" y="304.5">Psicología de<tspan x="969" dy="9.5">la Niñez y de la</tspan><tspan x="969" dy="9.5">Adolescencia</tspan></text>
<rect class="cr" x="915" y="330" width="31" height="8"/><text class="ct" x="917" y="336.2">2 créditos</text><rect class="h" x="976" y="329" width="39" height="17"/><text class="ht" x="1013" y="335">3 horas<tspan x="1013" dy="7">pedagógicas</tspan></text></g>
<g id="EPE1341"><rect class="b" x="923" y="363" width="92" height="63"/><rect class="p" x="941" y="357" width="56" height="14"/><text class="c" x="969" y="367.6">EPE1341</text>
<text class="t" x="969" y="384.5">Investigación<tspan x="969" dy="9.5">Educativa y</tspan><tspan x="969" dy="9.5">Pedagógica</tspan></text>
<rect class="cr" x="915" y="410" width="31" height="8"/><text class="ct" x="917" y="416.2">2 créditos</text><rect class="h" x="976" y="409" width="39" height="17"/><text class="ht" x="1013" y="415">4 horas<tspan x="1013" dy="7">pedagógicas</tspan></text></g>
<g id="FF3"><rect class="b" x="923" y="443" width="92" height="63"/><rect class="f" x="941" y="437" width="56" height="14"/>
<text class="t" x="969" y="464.5">Formación<tspan x="969" dy="9.5">Fundamental</tspan><tspan x="969" dy="9.5">3</tspan></text>
<rect class="cr" x="915" y="490" width="31" height="8"/><text class="ct" x="917" y="496.2">2 créditos</text><rect class="h" x="976" y="489" width="39" height="17"/><text class="ht" x="1013" y="495">2 horas<tspan x="1013" dy="7">pedagógicas</tspan></text></g>
<g id="ING9004"><rect class="b" x="923" y="522" width="92" height="63"/><rect class="f" x="941" y="516" width="56" height="14"/><text class="c" x="969" y="526.6">ING9004</text>
<text class="t" x="969" y="553">Inglés 4</text>
<rect class="cr" x="915" y="569" width="31" height="8"/><text class="ct" x="917" y="575.2">2 créditos</text><rect class="h" x="976" y="568" width="39" height="17"/><text class="ht" x="1013" y="574">2 horas<tspan x="1013" dy="7">pedagógicas</tspan></text></g>

<!-- Column 9 -->
<g id="PRA600-58"><rect class="b" x="1047" y="283" width="92" height="63"/><rect class="k" x="1065" y="277" width="56" height="14"/><text class="c" x="1093" y="287.6">PRA600-58</text>
<text class="t" x="1093" y="304.5">Práctica<tspan x="1093" dy="9.5">Docente</tspan><tspan x="1093" dy="9.5">Final</tspan></text>
<rect class="cr" x="1039" y="330" width="31" height="8"/><text class="ct" x="1041" y="336.2">12 créditos</text><rect class="h" x="1100" y="329" width="39" height="17"/><text class="ht" x="1137" y="335">20 horas<tspan x="1137" dy="7">pedagógicas</tspan></text></g>

<g id="connectors">
<path class="ln" d="M92,107 V110 H593 V107.5"/>
<path class="ln" d="M597,107 V109 H847 V107.5"/>
<path class="ln" d="M218,118 V114 H472 V118" marker-end="url(#ar)"/>
<path class="ln" d="M270,153 H302" marker-end="url(#ar)"/>
<path class="ln" d="M518,152 H528 V75 H551" marker-end="url(#ar)"/>
<path class="ln" d="M643,75 H674" marker-end="url(#ar)"/>
<path class="ln" d="M766,75 H798" marker-end="url(#ar)"/>
<path class="ln" d="M718,38 V32 H967 V38" marker-end="url(#ar)"/>
<path class="ln" d="M211,187 V194 H283 V230 H302" marker-end="url(#ar)"/>
<path class="ln" d="M217,187 V192 H721 V187.5"/>
<path class="ln" d="M225,187 V189 H597 V187.5"/>
<path class="ln" d="M394,230 H426" marker-end="url(#ar)"/>
<path class="ln" d="M97,277 V273 H346 V277"/>
<path class="ln" d="M145,311 H178" marker-end="url(#ar)"/>
<path class="ln" d="M100,357 V349 H470 V346"/>
<path class="ln" d="M104,357 V353 H353 V357"/>
<path class="ln" d="M145,390 H178" marker-end="url(#ar)"/>
<path class="ln" d="M270,389 H283 V467 H302" marker-end="url(#ar)"/>
<path class="ln" d="M270,473 H302" marker-end="url(#ar)"/>
<path class="ln" d="M394,392 H426" marker-end="url(#ar)"/>
<path class="ln" d="M643,391 H653 V354 H779 V310 H798" marker-end="url(#ar)"/>
<path class="ln" d="M890,306 H903 V73 H923" marker-end="url(#ar)"/>
<path class="ln" d="M890,311 H908 V230 H923" marker-end="url(#ar)"/>
<path class="ln" d="M890,316 H914 V275 H1023 V312 H1047" marker-end="url(#ar)"/>
<path class="ln" d="M890,150 H923" marker-end="url(#ar)"/>
<path class="ln" d="M394,629 H426" marker-end="url(#ar)"/>
<path class="ln" d="M518,629 H533 V550 H674" marker-end="url(#ar)"/>
<path class="ln" d="M766,550 H923" marker-end="url(#ar)"/>
</g>

<g id="legend">
<text class="lg" x="888" y="619">Resumen</text>
<text class="lg" x="902" y="627">Cantidad de Asignaturas:</text><text class="lg" x="1002" y="627" text-anchor="end">59</text>
<text class="lg" x="902" y="635">Cantidad de Créditos:</text><text class="lg" x="1002" y="635" text-anchor="end">149</text>
<text class="lg" x="902" y="643">Cantidad de hrs. presenciales:</text><text class="lg" x="1002" y="643" text-anchor="end">251</text>
<path class="ln" d="M1028,609 H1036" marker-end="url(#ar)" style="stroke-width:1.2"/>
<rect x="1028" y="614.5" width="8" height="3.5" fill="#a855bb"/>
<rect x="1028" y="622" width="8" height="3.5" fill="#5a83ad"/>
<rect x="1028" y="629.5" width="8" height="3.5" fill="#9d8a2b"/>
<rect x="1028" y="637" width="8" height="3.5" fill="#050505"/>
<text class="lg" x="1045" y="611">Pre-requisito</text>
<text class="lg" x="1045" y="618.5">Formación Fundamental</text>
<text class="lg" x="1045" y="626">Formación Disciplinar</text>
<text class="lg" x="1045" y="633.5">Formación Profesional</text>
<text class="lg" x="1045" y="641">Formación Práctica</text>
</g>

<g id="totals">
<text class="ft" x="99" y="670">19 créditos</text><text class="ft" x="99" y="679">21 horas pedagógicas</text>
<text class="ft" x="224" y="670">18 créditos</text><text class="ft" x="224" y="679">32 horas pedagógicas</text>
<text class="ft" x="348" y="670">18 créditos</text><text class="ft" x="348" y="679">31 horas pedagógicas</text>
<text class="ft" x="472" y="670">20 créditos</text><text class="ft" x="472" y="679">34 horas pedagógicas</text>
<text class="ft" x="592" y="670">15 créditos</text><text class="ft" x="592" y="679">26 horas pedagógicas</text>
<text class="ft" x="718" y="670">15 créditos</text><text class="ft" x="718" y="679">24 horas pedagógicas</text>
<text class="ft" x="847" y="670">16 créditos</text><text class="ft" x="847" y="679">28 horas pedagógicas</text>
<text class="ft" x="968" y="670">16 créditos</text><text class="ft" x="968" y="679">25 horas pedagógicas</text>
<text class="ft" x="1087" y="670">12 créditos</text><text class="ft" x="1087" y="679">20 horas pedagógicas</text>
</g>
</svg>
